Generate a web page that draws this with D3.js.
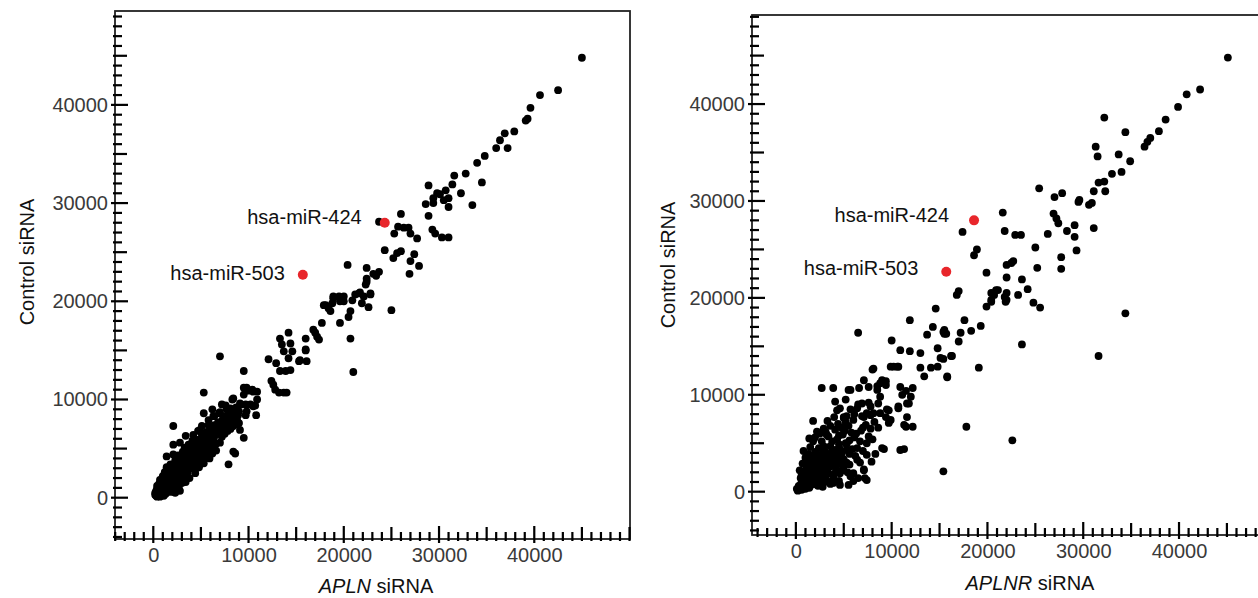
<!DOCTYPE html>
<html>
<head>
<meta charset="utf-8">
<script src="https://cdn.jsdelivr.net/npm/d3@7"></script>
<style>
html,body{margin:0;padding:0;background:#fff;}
svg{display:block;}
text{font-family:"Liberation Sans",Arial,sans-serif;}
</style>
</head>
<body>
<svg id="chart" width="1258" height="598"></svg>
<script>
// ---------------- DATA ----------------
const tickLabels = [0, 10000, 20000, 30000, 40000];
const yTitle = "Control siRNA";
const leftGene = "APLN";
const rightGene = "APLNR";

// APLN siRNA (x) vs Control siRNA (y)
const leftPoints = [
[45000,44800],[42500,41500],[40600,41000],[39600,39700],[39300,38600],[39100,38400],[37900,37300],[36900,37100],[36400,36400],[37200,35600],[36000,35600],[34800,34800],[34000,34100],[34500,32100],[32800,33000],[31600,32800],[31400,31900],[28900,31800],[30700,31300],[29800,31000],[30100,30900],[32300,31000],[29400,30500],[30500,30300],[31000,30500],[28600,29900],[29400,30000],[31000,29600],[33500,29800],[28900,28700],[26000,28900],[25700,27600],[26300,27500],[26800,27500],[25300,26900],[27000,26900],[27700,26400],[29300,27300],[29600,26900],[30300,26500],[31000,26500],[23700,28100],[24300,25200],[25200,24400],[25600,24900],[26000,25100],[27400,24800],[27000,24100],[20400,23700],[22400,23400],[23700,23000],[23400,22600],[27900,23600],[26900,22800],[22400,22000],[22800,20700],[21700,20900],[21200,20700],[18900,20500],[19500,20500],[20000,20500],
[17900,19600],[18800,19800],[20000,20000],[20900,20100],[21900,19800],[22600,19400],[25000,19100],[18600,19000],[18400,19300],[20500,18400],[19600,17800],[17700,17800],[16800,17100],[17000,16800],[17200,16400],[17400,16100],[16000,16200],[16000,15100],[20700,16200],[15400,14000],[16100,13900],[21000,12800],
[22400,22300],[23100,22800],[22300,21700],[21600,20800],[22100,20500],[22800,20800],[18100,19600],[18900,20300],[19600,20000],[20700,19000],
[7000,14400],[9500,12900],[12100,14100],[12900,13700],[13300,16200],[13500,15600],[13700,14900],[14200,16800],[14400,15700],[14600,14900],[14200,14200],[13300,12900],[13900,12900],[14400,13000],[15300,13900],[16000,15000],[12400,11900],[12600,11500],[12800,11000],[13200,10700],[13700,10700],[14000,10700],[9500,11200],[10000,10900],[10500,10800],[8400,10100],[9100,9600],[9700,9500],[10200,9500],[10700,9400],[5300,10700],[7200,9500],[8100,9100],
[9800,11200],[10400,11000],[10900,10800],[9500,10500],[10900,10000],[10500,9300],[9700,8400],[9800,8800],[10800,8400],[9500,6100],[8400,4700],[8600,4500],[7900,3400],
[8300,10000],[6900,8600],[6300,8300],[5800,7400],[5100,7300],[7700,9000],[8100,7800],[8400,7300],[9000,7600],[9100,6900],[8800,7900],[7200,7100],[7200,6600],[6300,6200],[5600,5900],[4900,5200],[4200,4900],[3500,4200],[2800,3900],[3500,3200],[2100,3200],[1400,2500],[700,1800],[400,1200],[200,500],[1400,4200],[2100,5400],[2800,5600],[3400,6300],[4200,6400],[4900,6900],[2100,7300],[5300,8600],[4700,6800],[2100,4400],
[300,200],[500,400],[700,300],[900,600],[1100,500],[600,800],[800,1000],[1200,900],[1000,1300],[1400,1100],[1600,1500],[1300,1700],[1800,1300],[1500,2000],[2000,1800],[1700,2300],[2200,2100],[1900,2700],[2400,2400],[2600,2000],[2300,2900],[2800,2600],[2500,3300],[3000,3000],[2700,3600],[3200,2700],[3100,3500],[3400,3200],[2900,4100],[3600,3800],[3300,4400],[3800,3500],[3900,4200],[3500,4800],[4100,3900],[4200,4600],[4400,4300],[4000,5200],[4600,4900],[4800,4500],[4500,5500],[5000,5200],[4700,5900],[5200,4800],[5300,5600],[5500,6100],[5100,6400],[5700,5400],[5900,6000],[5600,6700],[6100,6500],[6000,7200],[6300,5800],[6500,6800],[6400,7400],[6700,7100],[6900,6500],[6800,7700],[7100,7400],[7300,8000],[7500,7200],[7400,8300],[7700,7800],[7900,8500],[8100,8200],[8300,8800],[8600,8500],[8700,9200],[9000,8800],[9200,9500],[400,900],[600,1400],[800,1800],[1000,2200],[1200,2600],[1400,3100],[1100,200],[1500,600],[1900,900],[2200,1300],[2500,1500],[2900,1900],[3200,2200],[3600,2600],[4000,3000],[4300,3400],[4700,3800],[5100,4200],[5500,4600],[5900,5000],[6300,5300],[200,300],[400,100],[300,700],[700,100],[1000,800],[1300,400],[1700,900],[2100,600],[1800,3400],[2300,3800],[2600,4300],[3100,4700],[3700,5400],[4100,5800],[3300,5100],[2700,1200],[3400,1600],[3800,2000],[4400,2500],[4800,3100],[5300,3500],[5900,4000],[6200,4500],[6600,4800],[7000,5600],[7200,6200],[7800,6800],[8200,7200],[8700,7500],[7600,9400],[7000,8700],[6400,8300],[5800,7900],[6200,9000],[2800,700],[2300,500],
[600,500],[900,900],[1300,1000],[1700,1200],[2000,1500],[2400,1900],[2100,2500],[2700,2300],[3000,2500],[3300,3000],[3700,3300],[3300,3700],[3900,3800],[4300,4000],[4100,4600],[4600,4200],[4900,4800],[5300,5100],[5600,5500],[6000,5700],[6400,6200],[6800,6800],[7200,7300],[7600,7600],[8000,8000],[8500,8100],[8900,8400],[1000,1700],[1600,1800],[2500,2800],[3800,4600],[4400,5200],[5000,5800],[5800,6400],[6600,7300],[900,400],[1800,600],[2600,900],[3000,1500],[3500,2300],[4500,3000],[5000,3800],[5600,4100],[6600,5500],[7500,6500],[8100,7000]
];

// APLNR siRNA (x) vs Control siRNA (y)
const rightPoints = [
[45100,44800],[42200,41500],[40800,41000],[39900,39700],[38600,38400],[37900,37200],[37000,36500],[36700,36100],[36400,35600],[32200,38600],[34400,37100],[31300,35600],[31500,34600],[33700,34800],[34900,34100],[34000,33000],[33000,32800],[32200,32000],[31600,31900],[32300,31000],[31100,31000],[29600,30100],[29500,29900],[30900,29800],[30600,29600],[25400,31300],[27000,30400],[27800,30800],[26900,28700],[27200,28200],[27400,27700],[29100,27500],[28300,26900],[29100,26300],[31100,27200],[26300,26600],[25000,25200],[29300,24900],[27700,24200],[27700,23000],[25200,23100],[21600,28800],[21800,26900],[22900,26500],[23500,26500],[17400,26800],[18900,25000],[18600,24400],[22000,23400],[22500,23600],[22700,23800],[19900,22600],[22000,22100],[23600,21900],[24200,20900],[17000,20700],[16800,20300],[20400,20500],[20900,20800],[22000,20500],[23200,20300],[21100,20800],[20700,20300],[20400,19800],[19900,19100],[21800,20100],[22000,19800],[24800,19500],[25500,19000],[20400,19600],[21900,19600],[34400,18400],[17600,17700],[19300,17100],[18300,16600],[17200,16400],[17000,15500],[23600,15200],[15400,16500],[15500,16300],[31600,14000],[15400,13700],[16300,14000],[19100,12800],[15800,11800],[17800,6700],[22600,5300],[15400,2100],
[14600,18900],[11900,17700],[14300,17000],[15500,16700],[15700,16300],[13700,16200],[6500,16400],[10000,15600],
[10900,14600],[11900,14500],[13000,14300],[14800,14800],[16200,14000],[15100,13800],[14800,12900],[14100,12800],[15800,11900],[13400,11900],[13000,12800],[10700,12900],[10200,12900],[8100,12700],
[7100,11500],[7600,10800],[6600,10700],[5700,10500],[9000,11500],[9400,11000],[8500,10500],[8800,9800],[8600,9100],[7800,8800],[6900,9100],[6400,8600],[5200,9500],[4300,8400],[5000,7700],[6000,7400],[7100,7700],[7400,8100],[8100,8100],[9400,7700],[9700,7100],[10900,10800],[11100,10000],[12200,10700],[12000,9800],[11800,9100],[10700,8800],[11600,7700],[11300,6900],[12200,6700],[9700,8400],
[2700,10700],[1800,7300],[4100,9300],[4600,8600],[5000,7600],[5500,10500],[8000,12600],[8500,10900],[8800,11200],[9400,11400],
[10700,8600],[11600,9100],[11500,6700],[11300,4400],[9200,4400],[8300,3900],[7100,2200],[7400,1200],[6000,1100],[5500,700],[4600,700],[3900,900],[3200,1100],
[3900,10700],[9900,12900],[10600,12900],[11500,10400],[7600,9200],[6500,9000],[5700,8500],[5300,7800],[6900,7800],[7800,7900],[8800,8100],[9500,8500],[9900,7400],[10900,4300],[9000,4500],[7400,3800],[6400,4500],[5300,4900],[4300,5400],[3200,5900],[2200,6200],[1800,5200],[2900,4700],[3900,4000],[2500,3300],[1500,3300],[1100,2300],[3600,2600],[4600,1900],[5700,1600],[6500,1400],[7200,1400],[7100,2300],[5300,3000],[6400,3300],[5000,3300],[7400,5000],
[200,100],[400,300],[600,200],[800,500],[1000,300],[300,600],[700,900],[1200,700],[900,1200],[1500,1000],[1400,400],[1800,800],[500,1400],[1100,1700],[1700,1500],[2000,1200],[2300,600],[2600,1000],[1300,2100],[2100,2000],[800,2000],[1600,2600],[2500,2300],[2900,1800],[3100,1300],[2200,2900],[2800,3000],[3300,2500],[1900,3600],[2600,3800],[3500,3400],[3000,4200],[3800,3100],[4200,2400],[4400,3700],[3600,4700],[4100,4300],[4800,4000],[2400,4500],[1300,3900],[700,2900],[400,2200],[1000,2800],[3400,1900],[3900,1500],[4500,1100],[5000,2600],[5400,2000],[4700,2900],[3200,3400],[2000,4100],[2700,5200],[3400,5700],[4100,6400],[4900,5900],[5600,5300],[5900,4400],[5800,6100],[4400,7000],[3600,6800],[2900,6500],[3300,7300],[4000,7700],[4800,6600],[5500,6800],[6300,6000],[6700,5200],[6200,3700],[5600,3900],[1500,600],[2800,500],[3600,800],[100,300],[600,1000],[1400,1400],[2200,1600],[1900,2500],[2900,2700],[3700,4000],[4500,4900],[5200,5000],[6100,5600],[6800,6300],[7300,6900],[7800,6500],[7600,5700],[8200,7200],[8600,6600],
[300,300],[500,700],[900,800],[1200,1100],[1600,1300],[2000,800],[2400,1300],[2800,1600],[1100,1000],[1700,2000],[2300,2400],[2700,2100],[3200,2100],[3000,3100],[2300,3300],[1800,2900],[1200,2500],[600,1700],[3600,3000],[4000,3500],[4300,3000],[3300,3900],[2800,4400],[4900,3400],[5300,4300],[4600,4400],[3800,5200],[4500,5800],[5100,6300],[2000,5600],[1500,4600],[1000,3500],[2500,700],[3400,1000],[4100,1900],[4800,2200],[5600,2800],[6000,1900],[6700,3000],[7000,4200],[7900,3100],[800,4200],[1400,5500],[2500,6000],[3100,6200],[5200,7200],[6100,8000],[7000,6600],[8000,5400]
];

const highlightNames = ["hsa-miR-424", "hsa-miR-503"];
const leftHighlight = [[24300, 28000], [15700, 22700]];
const rightHighlight = [[18600, 28000], [15700, 22700]];

// ---------------- LAYOUT ----------------
const panels = [
  { points: leftPoints, hl: leftHighlight, gene: leftGene,
    box: { l: 115, r: 630, t: 11, b: 539 },
    xDom: [-4020, 50050], yDom: [-4206, 49560],
    xTitle: [376, 593], yTitle: [34, 262],
    labelOff: [[-23, 1], [-18, 5]] },
  { points: rightPoints, hl: rightHighlight, gene: rightGene,
    box: { l: 752, r: 1259, t: 15, b: 535 },
    xDom: [-4580, 48350], yDom: [-4470, 49190],
    xTitle: [1030, 590], yTitle: [675, 265],
    labelOff: [[-25, 2], [-28, 3]] }
];

const svg = d3.select("#chart");
svg.append("rect").attr("width", 1258).attr("height", 598).attr("fill", "#fff");

const tickKind = v => tickLabels.includes(v) ? 2 : (v % 5000 === 0 ? 1 : 0);
const tickLen = [7, 12, 13];
const tickOut = [2, 2, 4];
const tickW = 2.2;

panels.forEach(p => {
  const x = d3.scaleLinear().domain(p.xDom).range([p.box.l, p.box.r]);
  const y = d3.scaleLinear().domain(p.yDom).range([p.box.b, p.box.t]);
  const g = svg.append("g");

  const xTicks = d3.range(-4000, p.xDom[1], 1000).filter(v => v > p.xDom[0]);
  const yTicks = d3.range(-4000, p.yDom[1], 1000).filter(v => v > p.yDom[0]);

  // tick labels via d3 axes
  const xa = g.append("g").attr("transform", `translate(0,${p.box.b})`)
    .call(d3.axisBottom(x).tickValues(tickLabels).tickSize(0).tickPadding(8.5).tickFormat(d3.format("d")));
  xa.select(".domain").remove();
  xa.selectAll("line").remove();
  xa.selectAll("text").attr("font-size", 20).attr("fill", "#3a3a3a")
    .attr("font-family", "'Liberation Sans', Arial, sans-serif");

  const ya = g.append("g").attr("transform", `translate(${p.box.l},0)`)
    .call(d3.axisLeft(y).tickValues(tickLabels).tickSize(0).tickPadding(7).tickFormat(d3.format("d")));
  ya.select(".domain").remove();
  ya.selectAll("line").remove();
  ya.selectAll("text").attr("font-size", 20).attr("fill", "#3a3a3a")
    .attr("font-family", "'Liberation Sans', Arial, sans-serif");

  // points
  g.append("g").selectAll("circle").data(p.points).join("circle")
    .attr("cx", d => x(d[0])).attr("cy", d => y(d[1]))
    .attr("r", 3.9).attr("fill", "#000");

  // highlighted points
  g.append("g").selectAll("circle").data(p.hl).join("circle")
    .attr("cx", d => x(d[0])).attr("cy", d => y(d[1]))
    .attr("r", 5).attr("fill", "#e8262b");

  g.append("g").selectAll("text").data(p.hl).join("text")
    .attr("x", (d, i) => x(d[0]) + p.labelOff[i][0])
    .attr("y", (d, i) => y(d[1]) + p.labelOff[i][1])
    .attr("text-anchor", "end")
    .attr("font-size", 20).attr("fill", "#111")
    .text((d, i) => highlightNames[i]);

  // frame
  g.append("rect")
    .attr("x", p.box.l).attr("y", p.box.t)
    .attr("width", p.box.r - p.box.l).attr("height", p.box.b - p.box.t)
    .attr("fill", "none").attr("stroke", "#222").attr("stroke-width", 1.8);

  // tick marks (inward), positioned by the scales
  const tg = svg.append("g").attr("class", "ticks");
  tg.selectAll("rect.xt").data(xTicks).join("rect").attr("class", "xt")
    .attr("x", d => x(d) - tickW / 2)
    .attr("width", tickW)
    .attr("y", d => p.box.b - tickLen[tickKind(d)])
    .attr("height", d => tickLen[tickKind(d)] + tickOut[tickKind(d)])
    .attr("fill", "#000");
  tg.selectAll("rect.yt").data(yTicks).join("rect").attr("class", "yt")
    .attr("y", d => y(d) - tickW / 2)
    .attr("height", tickW)
    .attr("x", d => p.box.l - tickOut[tickKind(d)])
    .attr("width", d => tickLen[tickKind(d)] + tickOut[tickKind(d)])
    .attr("fill", "#000");

  // axis titles
  const xt = g.append("text")
    .attr("x", p.xTitle[0]).attr("y", p.xTitle[1])
    .attr("text-anchor", "middle").attr("font-size", 20).attr("fill", "#111");
  xt.append("tspan").attr("font-style", "italic").text(p.gene);
  xt.append("tspan").text(" siRNA");

  g.append("text")
    .attr("transform", `translate(${p.yTitle[0]},${p.yTitle[1]}) rotate(-90)`)
    .attr("text-anchor", "middle").attr("font-size", 20).attr("fill", "#111")
    .text(yTitle);
});
</script>
</body>
</html>
